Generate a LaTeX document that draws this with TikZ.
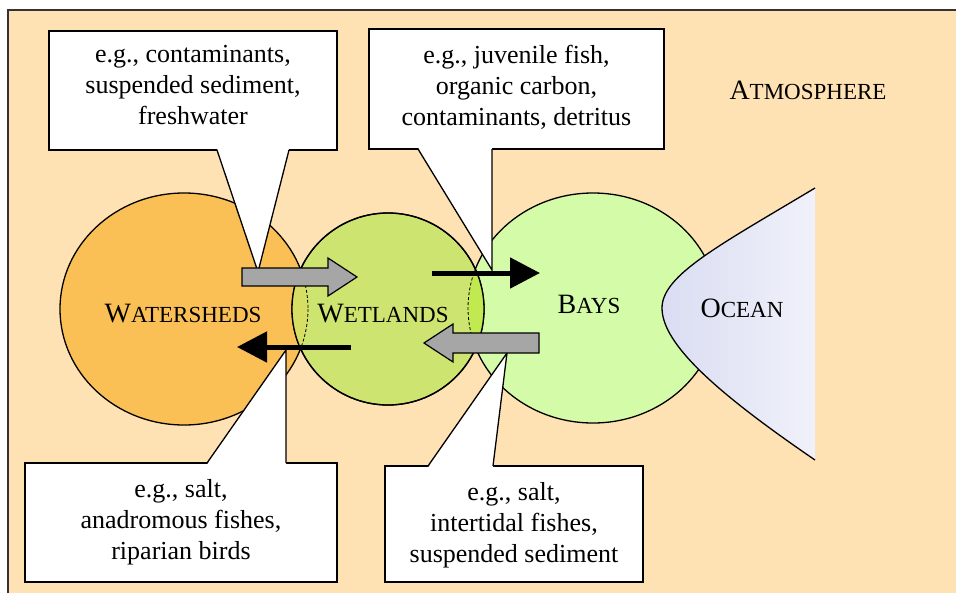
\documentclass[tikz,border=0pt]{standalone}
\usepackage{fontspec}
\setmainfont{Liberation Serif}
\usetikzlibrary{calc,arrows.meta}

\definecolor{atmosfill}{RGB}{255,226,180}
\definecolor{shedfill}{RGB}{250,192,85}
\definecolor{wetfill}{RGB}{206,228,112}
\definecolor{bayfill}{RGB}{212,251,168}
\definecolor{lensleft}{RGB}{214,222,100}
\definecolor{lensright}{RGB}{192,234,80}
\definecolor{oceanleft}{RGB}{218,221,242}
\definecolor{oceanright}{RGB}{240,241,250}
\definecolor{flowgray}{RGB}{166,166,166}

\newcommand{\capsname}[2]{{\fontsize{28}{30}\selectfont #1\fontsize{23}{30}\selectfont #2}}

\begin{document}
\begin{tikzpicture}[x=1pt,y=-1pt,
  outline/.style={line width=1.3pt},
  callout/.style={draw,fill=white,line width=1.3pt,rectangle,inner sep=0pt,outer sep=0pt},
  callouttext/.style={align=center,inner sep=0pt,anchor=north,font=\fontsize{26}{31}\selectfont},
  regionname/.style={anchor=base,inner sep=0pt},
  lensarc/.style={line width=0.8pt,dash pattern=on 3pt off 2pt},
  blockflow/.style={fill=flowgray,draw=black,line width=1.2pt,line join=miter},
  lineflow/.style={line width=5pt,-{Triangle[length=30pt,width=30pt]}}]

\useasboundingbox (0,0) rectangle (956,592);
\draw[line width=1.5pt,draw=black!80,fill=atmosfill] (8,10) rectangle (964,600);
\draw node [regionname] (atmosphere) at (808,99) {\capsname{A}{TMOSPHERE}};

\coordinate (watersheds) at (184,309);
\coordinate (wetlands) at (388,309);
\coordinate (bays) at (593,308);

\draw[outline,fill=shedfill] (watersheds) ellipse [x radius=124,y radius=116];
\draw[outline,fill=bayfill] (bays) ellipse [x radius=125,y radius=115];
\shade[left color=oceanleft,right color=oceanright] (815,188) .. controls (720,245) and (662,275) .. (662,308) .. controls (662,345) and (720,395) .. (815,460) -- cycle;
\draw[outline] (815,188) .. controls (720,245) and (662,275) .. (662,308) .. controls (662,345) and (720,395) .. (815,460);

\draw[outline,fill=wetfill] (wetlands) circle (96);
\begin{scope}
\clip (wetlands) circle (96);
\fill[lensleft] (watersheds) ellipse [x radius=124,y radius=116];
\fill[lensright] (bays) ellipse [x radius=125,y radius=115];
\draw[lensarc] (watersheds) ellipse [x radius=124,y radius=116];
\draw[lensarc] (bays) ellipse [x radius=125,y radius=115];
\end{scope}
\draw[outline] (wetlands) circle (96);

\draw node [regionname] (shedname) at (183,322) {\capsname{W}{ATERSHEDS}};
\draw node [regionname] (wetname) at (383,322) {\capsname{W}{ETLANDS}};
\draw node [regionname] (bayname) at (589,313) {\capsname{B}{AYS}};
\draw node [regionname] (oceanname) at (742,317) {\capsname{O}{CEAN}};

\draw node [callout,minimum width=288pt,minimum height=119pt] (shedcall) at (193,90.5) {};
\coordinate (shedcalltip) at (258,272);
\fill[white] ($(shedcall.south west)+(168,-1.5)$) -- (shedcalltip) -- ($(shedcall.south west)+(240,-1.5)$) -- cycle;
\draw[outline] ($(shedcall.south west)+(168,0)$) -- (shedcalltip) -- ($(shedcall.south west)+(240,0)$);
\draw node [callouttext] (shedcalltext) at ($(shedcall.north)+(0,14)$) {e.g., contaminants,\\suspended sediment,\\freshwater};

\draw node [callout,minimum width=295pt,minimum height=120pt] (baycall) at (516.5,89) {};
\coordinate (baycalltip) at (492,270);
\fill[white] ($(baycall.south west)+(49,-1.5)$) -- (baycalltip) -- ($(baycall.south west)+(123,-1.5)$) -- cycle;
\draw[outline] ($(baycall.south west)+(49,0)$) -- (baycalltip) -- ($(baycall.south west)+(123,0)$);
\draw node [callouttext] (baycalltext) at ($(baycall.north)+(0,16)$) {e.g., juvenile fish,\\organic carbon,\\contaminants, detritus};

\draw node [callout,minimum width=312pt,minimum height=119pt] (upcall) at (181,522.5) {};
\coordinate (upcalltip) at (286,350);
\fill[white] ($(upcall.north west)+(182,1.5)$) -- (upcalltip) -- ($(upcall.north west)+(261,1.5)$) -- cycle;
\draw[outline] ($(upcall.north west)+(182,0)$) -- (upcalltip) -- ($(upcall.north west)+(261,0)$);
\draw node [callouttext] (upcalltext) at ($(upcall.north)+(0,16)$) {e.g., salt,\\anadromous fishes,\\riparian birds};

\draw node [callout,minimum width=258pt,minimum height=116pt] (tidecall) at (514,524) {};
\coordinate (tidecalltip) at (507,353);
\fill[white] ($(tidecall.north west)+(43,1.5)$) -- (tidecalltip) -- ($(tidecall.north west)+(108,1.5)$) -- cycle;
\draw[outline] ($(tidecall.north west)+(43,0)$) -- (tidecalltip) -- ($(tidecall.north west)+(108,0)$);
\draw node [callouttext] (tidecalltext) at ($(tidecall.north)+(0,16)$) {e.g., salt,\\intertidal fishes,\\suspended sediment};

\coordinate (downtail) at ($(watersheds)+(58,-32)$);
\coordinate (downhead) at ($(wetlands)+(-31,-32)$);
\draw[blockflow] ($(downtail)+(0,-9)$) -- ($(downhead)+(-29,-9)$) -- ($(downhead)+(-29,-19)$) -- (downhead) -- ($(downhead)+(-29,19)$) -- ($(downhead)+(-29,9)$) -- ($(downtail)+(0,9)$) -- cycle;

\coordinate (backtail) at ($(bays)+(-54,35)$);
\coordinate (backhead) at ($(wetlands)+(36,34)$);
\draw[blockflow] ($(backtail)+(0,-10)$) -- ($(backhead)+(29,-10)$) -- ($(backhead)+(29,-19)$) -- (backhead) -- ($(backhead)+(29,19)$) -- ($(backhead)+(29,10)$) -- ($(backtail)+(0,10)$) -- cycle;

\coordinate (outtail) at ($(wetlands)+(44,-36)$);
\coordinate (outhead) at ($(bays)+(-53,-35)$);
\draw[lineflow] (outtail) -- (outhead);

\coordinate (uptail) at ($(wetlands)+(-37,38)$);
\coordinate (uphead) at ($(watersheds)+(53,38)$);
\draw[lineflow] (uptail) -- (uphead);

\end{tikzpicture}
\end{document}
